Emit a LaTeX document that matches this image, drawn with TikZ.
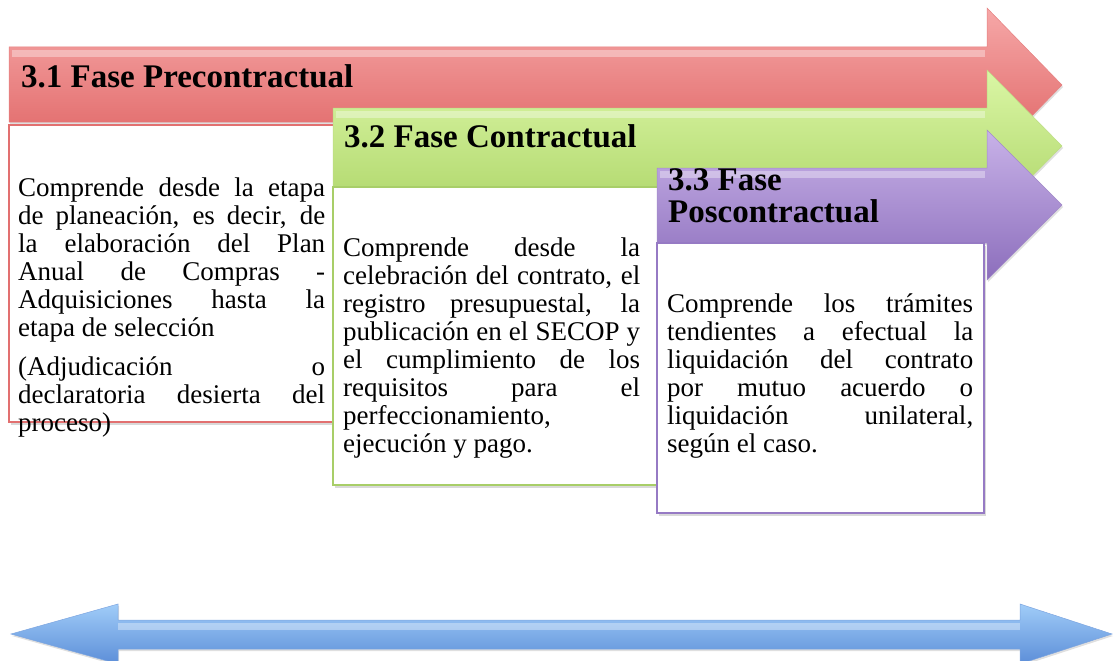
\documentclass[tikz,border=0pt]{standalone}
\usepackage{fontspec}
\setmainfont{Liberation Serif}
\newfontfamily\bodyfont{Liberation Serif}
\newfontfamily\titlefont{Liberation Serif}
\usetikzlibrary{shadows}
\definecolor{redtop}{RGB}{246,168,168}
\definecolor{redbot}{RGB}{222,96,96}
\definecolor{redline}{RGB}{226,112,112}
\definecolor{grntop}{RGB}{218,246,165}
\definecolor{grnbot}{RGB}{172,212,102}
\definecolor{grnline}{RGB}{168,206,104}
\definecolor{purtop}{RGB}{200,178,232}
\definecolor{purbot}{RGB}{140,110,188}
\definecolor{purline}{RGB}{150,122,196}
\definecolor{blutop}{RGB}{160,204,248}
\definecolor{blubot}{RGB}{92,142,216}
\newcommand\jline[1]{\makebox[\linewidth][s]{#1}\par}
\newcommand\bodytext[2]{\parbox[t]{#1}{\bodyfont\fontsize{27}{28}\selectfont\parindent=0pt\parskip=0pt #2}}
\begin{document}
\begin{tikzpicture}[x=1pt,y=-1pt,
  boxstyle/.style={line width=1.6pt, fill=white, drop shadow={opacity=0.3, shadow xshift=2pt, shadow yshift=-3pt}},
  titlestyle/.style={anchor=base west, inner sep=0pt, font=\titlefont\bfseries\fontsize{33}{32}\selectfont},
  bodystyle/.style={anchor=base west, inner sep=0pt},
  gloss/.style={fill=white, opacity=0.35, draw=none}]
\useasboundingbox (0,0) rectangle (1114,661);

% ---- red arrow ----
\path[top color=redtop, bottom color=redbot, draw=redbot!80!white, line width=0.5pt,
  drop shadow={opacity=0.25, shadow xshift=1pt, shadow yshift=-2pt}]
  (9,47) -- (987,47) -- (987,8) -- (1062,85) -- (987,162) -- (987,122) -- (9,122) -- cycle;
\fill[gloss] (12,50) rectangle (985,57);
\draw[boxstyle, draw=redline] (9,125) rectangle (342,422);
\node[titlestyle] (t1) at (21,88) {3.1 Fase Precontractual};
\node[bodystyle] (b1) at (18,196) {\bodytext{307pt}{%
\jline{Comprende desde la etapa}
\jline{de planeación, es decir, de}
\jline{la elaboración del Plan}
\jline{Anual de Compras -}
\jline{Adquisiciones hasta la}
etapa de selección\par\vspace{11pt}
\jline{(Adjudicación o}
\jline{declaratoria desierta del}
proceso)}};

% ---- green arrow ----
\path[top color=grntop, bottom color=grnbot, draw=grnbot!80!white, line width=0.5pt,
  drop shadow={opacity=0.25, shadow xshift=1pt, shadow yshift=-2pt}]
  (333,108) -- (987,108) -- (987,70) -- (1062,146) -- (987,222) -- (987,186) -- (333,186) -- cycle;
\fill[gloss] (336,111) rectangle (985,118);
\draw[boxstyle, draw=grnline] (333,187) rectangle (665,485);
\node[titlestyle] (t2) at (344,147) {3.2 Fase Contractual};
\node[bodystyle] (b2) at (343,256) {\bodytext{297pt}{%
\jline{Comprende desde la}
\jline{celebración del contrato, el}
\jline{registro presupuestal, la}
\jline{publicación en el SECOP y}
\jline{el cumplimiento de los}
\jline{requisitos para el}
perfeccionamiento,\par
ejecución y pago.}};

% ---- purple arrow ----
\path[top color=purtop, bottom color=purbot, draw=purbot!80!white, line width=0.5pt,
  drop shadow={opacity=0.25, shadow xshift=1pt, shadow yshift=-2pt}]
  (657,168) -- (987,168) -- (987,130) -- (1062,205) -- (987,280) -- (987,243) -- (657,243) -- cycle;
\fill[gloss] (660,171) rectangle (985,178);
\draw[boxstyle, draw=purline] (657,243) rectangle (984,513);
\node[titlestyle] (t3) at (668,190) {\parbox[t]{300pt}{\titlefont\bfseries\fontsize{33}{32}\selectfont 3.3 Fase\\Poscontractual}};
\node[bodystyle] (b3) at (667,312) {\bodytext{306pt}{%
\jline{Comprende los trámites}
\jline{tendientes a efectual la}
\jline{liquidación del contrato}
\jline{por mutuo acuerdo o}
\jline{liquidación unilateral,}
según el caso.}};

% ---- blue double arrow ----
\path[top color=blutop, bottom color=blubot, draw=blubot!80!white, line width=0.5pt,
  drop shadow={opacity=0.25, shadow xshift=1pt, shadow yshift=-2pt}]
  (11,634) -- (118,604) -- (118,620) -- (1020,620) -- (1020,604) -- (1112,634)
  -- (1020,664) -- (1020,649) -- (118,649) -- (118,664) -- cycle;
\fill[gloss] (118,623) rectangle (1020,630);
\end{tikzpicture}
\end{document}
